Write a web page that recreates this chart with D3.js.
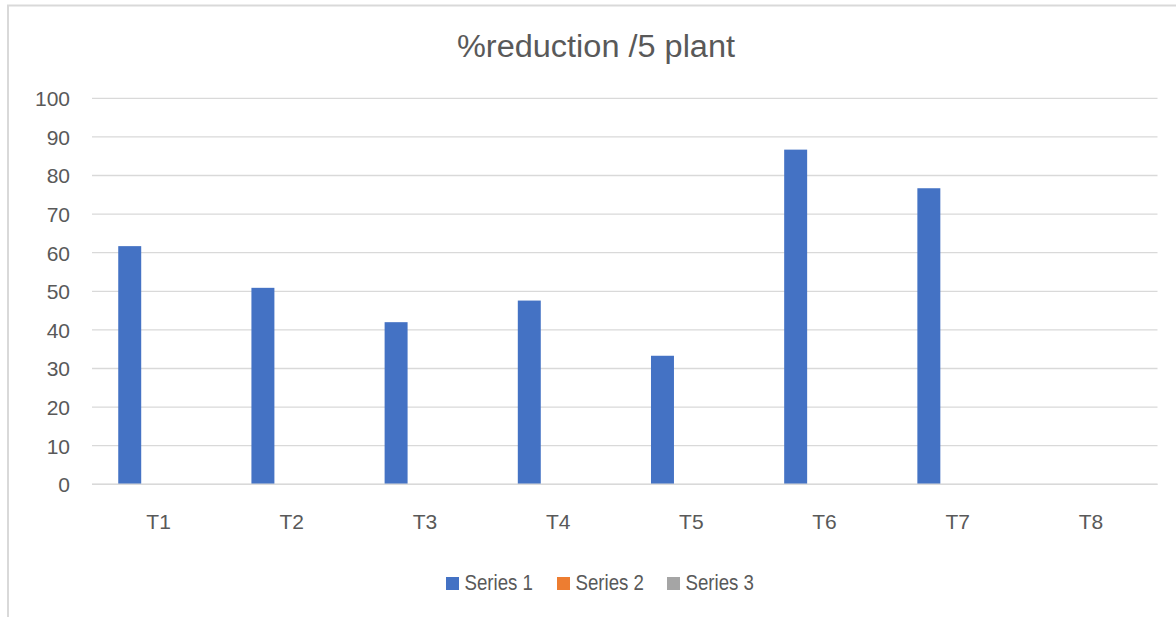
<!DOCTYPE html>
<html>
<head>
<meta charset="utf-8">
<script src="https://cdn.jsdelivr.net/npm/d3@7"></script>
<style>
  html, body { margin: 0; padding: 0; background: #fff; }
  svg { display: block; }
  text { font-family: "Liberation Sans Narrow", "Liberation Sans", Arial, sans-serif; fill: #595959; }
</style>
</head>
<body>
<svg id="chart" width="1176" height="617"></svg>
<script>
const categories = ["T1", "T2", "T3", "T4", "T5", "T6", "T7", "T8"];
const seriesNames = ["Series 1", "Series 2", "Series 3"];
const series1 = [61.7, 50.9, 42.0, 47.6, 33.3, 86.7, 76.7, 0];
const series2 = [0, 0, 0, 0, 0, 0, 0, 0];
const series3 = [0, 0, 0, 0, 0, 0, 0, 0];
const yTicks = [0, 10, 20, 30, 40, 50, 60, 70, 80, 90, 100];
const colors = ["#4472C4", "#ED7D31", "#A5A5A5"];
const titleText = "%reduction /5 plant";

const seriesData = [series1, series2, series3];

const svg = d3.select("#chart");

// chart border (extends beyond visible frame on right/bottom)
svg.append("rect")
  .attr("x", 8).attr("y", 5.5)
  .attr("width", 1200).attr("height", 700)
  .attr("fill", "none").attr("stroke", "#D9D9D9").attr("stroke-width", 2);

const plotLeft = 92, plotRight = 1157.5, plotTop = 98.3, plotBottom = 484.3;

const x = d3.scaleBand().domain(categories).range([plotLeft, plotRight]).padding(0);
const bw = x.bandwidth();
const inner = d3.scaleBand().domain(seriesNames)
  .range([0.197 * bw, 0.197 * bw + 3 * 0.1725 * bw]).padding(0);
const y = d3.scaleLinear().domain([0, 100]).range([plotBottom, plotTop]);

// gridlines
svg.append("g").selectAll("line").data(yTicks).join("line")
  .attr("x1", plotLeft).attr("x2", plotRight)
  .attr("y1", d => y(d)).attr("y2", d => y(d))
  .attr("stroke", "#D9D9D9").attr("stroke-width", 1.3);

// y axis labels
const yAxis = d3.axisLeft(y).tickValues(yTicks).tickSize(0).tickPadding(0);
const gy = svg.append("g").attr("transform", "translate(70,0)").call(yAxis);
gy.select(".domain").remove();
gy.selectAll("text")
  .attr("font-size", 21).attr("fill", "#595959").attr("dy", "0.35em")
  .style("font-family", "'Liberation Sans Narrow','Liberation Sans',Arial,sans-serif");

// bars
const bars = [];
seriesData.forEach((arr, si) => {
  arr.forEach((v, ci) => bars.push({ s: seriesNames[si], si, c: categories[ci], v }));
});
svg.append("g").selectAll("rect").data(bars.filter(d => d.v > 0)).join("rect")
  .attr("x", d => x(d.c) + inner(d.s))
  .attr("width", inner.bandwidth())
  .attr("y", d => y(d.v))
  .attr("height", d => y(0) - y(d.v))
  .attr("fill", d => colors[d.si]);

// zero axis line
svg.append("line")
  .attr("x1", plotLeft).attr("x2", plotRight)
  .attr("y1", y(0)).attr("y2", y(0))
  .attr("stroke", "#D9D9D9").attr("stroke-width", 1.5);

// x axis labels
const xAxis = d3.axisBottom(x).tickSize(0).tickPadding(0);
const gx = svg.append("g").attr("transform", `translate(0,${plotBottom})`).call(xAxis);
gx.select(".domain").remove();
gx.selectAll("text")
  .attr("font-size", 21).attr("fill", "#595959").attr("y", 45).attr("dy", 0)
  .style("font-family", "'Liberation Sans Narrow','Liberation Sans',Arial,sans-serif");

// title
svg.append("text")
  .attr("x", 596).attr("y", 57)
  .attr("text-anchor", "middle")
  .attr("font-size", 31)
  .attr("textLength", 278).attr("lengthAdjust", "spacingAndGlyphs")
  .text(titleText);

// legend
const legendX = [446, 557, 667];
const lg = svg.append("g").selectAll("g").data(seriesNames).join("g")
  .attr("transform", (d, i) => `translate(${legendX[i]},577)`);
lg.append("rect").attr("width", 13).attr("height", 13)
  .attr("fill", (d, i) => colors[i]);
lg.append("text").attr("x", 18.5).attr("y", 13.3)
  .attr("font-size", 22)
  .attr("textLength", 68.5).attr("lengthAdjust", "spacingAndGlyphs")
  .text(d => d);
</script>
</body>
</html>
